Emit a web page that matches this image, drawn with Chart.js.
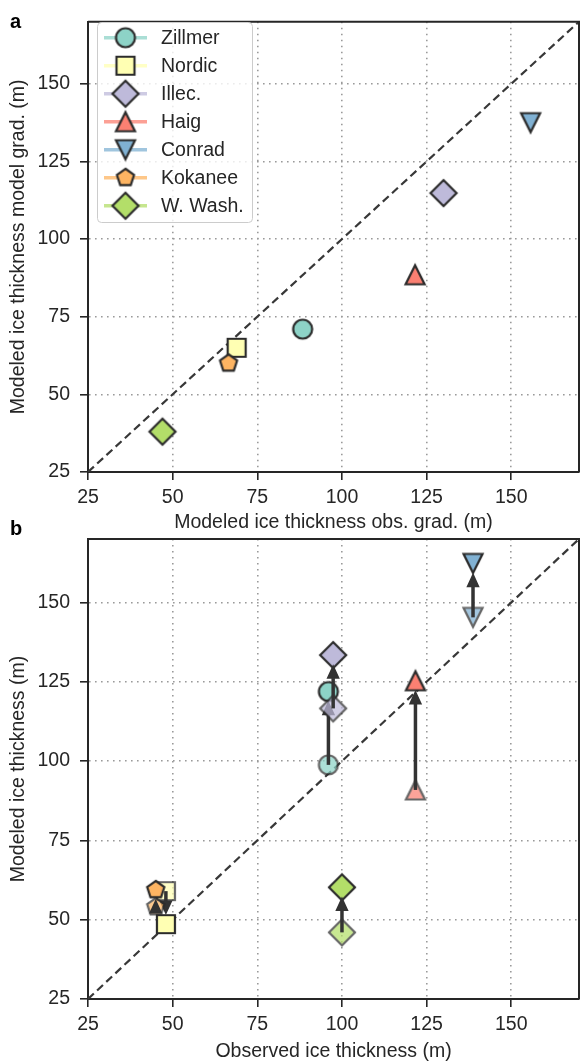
<!DOCTYPE html>
<html>
<head>
<meta charset="utf-8">
<script src="https://cdn.jsdelivr.net/npm/chart.js@4.4.1/dist/chart.umd.min.js"></script>
<style>
  html, body { margin: 0; padding: 0; background: #fff; overflow: hidden; }
  body { width: 582px; height: 1064px; position: relative; }
  canvas { position: absolute; left: 0; }
  #chartA { top: 0; }
  #chartB { top: 510px; }
</style>
</head>
<body>
<canvas id="chartA" width="590" height="540"></canvas>
<canvas id="chartB" width="590" height="554"></canvas>
<script>
// glaciers, colours, marker shapes
const glaciers = ['Zillmer', 'Nordic', 'Illec.', 'Haig', 'Conrad', 'Kokanee', 'W. Wash.'];
const colors = ['#8dd3c7', '#ffffb3', '#bebada', '#fb8072', '#80b1d3', '#fdb462', '#b3de69'];
const shapes = ['circle', 'square', 'diamond', 'triUp', 'triDown', 'pentagon', 'diamond'];

// panel a : modeled thickness, obs. gradient vs model gradient
const thkObsGrad = [88.4, 68.9, 130, 121.6, 155.7, 66.5, 47];
const thkModelGrad = [71, 65, 114.8, 88.5, 137.5, 60, 38];

// panel b : observed vs modeled (before -> after)
const thkObserved = [96, 48, 97.4, 121.7, 138.7, 45, 100];
const thkBefore = [98.8, 59, 116.6, 90.9, 145.3, 54, 46];
const thkAfter = [121.9, 48.6, 133.4, 125.3, 162.3, 59.4, 60.2];

const axisTicks = [25, 50, 75, 100, 125, 150];
const axisRange = [25, 170];
const oneToOne = [25, 170];

const FONT = "'Liberation Sans', Arial, sans-serif";
const INK = '#262626';
const FS = 19.5;
Chart.defaults.font.family = FONT;
Chart.defaults.font.size = FS;
Chart.defaults.color = INK;

// marker drawing (matplotlib-like shapes)
function markerPath(g, shape, c) {
    g.beginPath();
    if (shape === 'circle') {
        g.arc(c, c, 9.5, 0, Math.PI * 2);
    } else if (shape === 'square') {
        g.rect(c - 9, c - 9, 18, 18);
    } else if (shape === 'diamond') {
        g.moveTo(c, c - 13); g.lineTo(c + 13, c); g.lineTo(c, c + 13); g.lineTo(c - 13, c);
        g.closePath();
    } else if (shape === 'triUp') {
        g.moveTo(c, c - 9.5); g.lineTo(c + 9.5, c + 9.5); g.lineTo(c - 9.5, c + 9.5);
        g.closePath();
    } else if (shape === 'triDown') {
        g.moveTo(c, c + 9.5); g.lineTo(c + 9.5, c - 9.5); g.lineTo(c - 9.5, c - 9.5);
        g.closePath();
    } else if (shape === 'pentagon') {
        for (let i = 0; i < 5; i++) {
            const a = -Math.PI / 2 + i * 2 * Math.PI / 5;
            const px = c + 9 * Math.cos(a), py = c + 9 * Math.sin(a);
            if (i === 0) g.moveTo(px, py); else g.lineTo(px, py);
        }
        g.closePath();
    }
}

function makeMarker(shape, fill, alpha) {
    const s = 36, c = s / 2;
    const base = document.createElement('canvas');
    base.width = base.height = s;
    const g = base.getContext('2d');
    markerPath(g, shape, c);
    g.fillStyle = fill;
    g.fill();
    g.lineWidth = 2.2;
    g.strokeStyle = '#2b2b2b';
    g.stroke();
    if (alpha >= 1) return base;
    const faded = document.createElement('canvas');
    faded.width = faded.height = s;
    const f = faded.getContext('2d');
    f.globalAlpha = alpha;
    f.drawImage(base, 0, 0);
    return faded;
}

const solidMarkers = shapes.map((s, i) => makeMarker(s, colors[i], 1));
const fadedMarkers = shapes.map((s, i) => makeMarker(s, colors[i], 0.72));

function hexAlpha(hex, a) {
    const n = parseInt(hex.slice(1), 16);
    return 'rgba(' + (n >> 16) + ',' + ((n >> 8) & 255) + ',' + (n & 255) + ',' + a + ')';
}

// frame (top / right spine) + panel letter
const framePlugin = {
    id: 'frame',
    afterDraw(chart, args, opts) {
        const {ctx, chartArea: a} = chart;
        ctx.save();
        ctx.strokeStyle = INK;
        ctx.lineWidth = 2;
        ctx.beginPath();
        ctx.moveTo(a.left, a.top); ctx.lineTo(a.right, a.top); ctx.lineTo(a.right, a.bottom);
        ctx.stroke();
        ctx.fillStyle = '#000';
        ctx.font = 'bold 20px ' + FONT;
        ctx.textBaseline = 'alphabetic';
        ctx.fillText(opts.letter, opts.x, opts.y);
        ctx.restore();
    }
};

// legend with line + marker like matplotlib
const legendPlugin = {
    id: 'mplLegend',
    afterDraw(chart, args, opts) {
        if (!opts.show) return;
        const ctx = chart.ctx;
        ctx.save();
        const bx = 97.5, by = 22.5, bw = 155, bh = 200, r = 4;
        ctx.beginPath();
        ctx.roundRect(bx, by, bw, bh, r);
        ctx.fillStyle = 'rgba(255,255,255,0.8)';
        ctx.fill();
        ctx.strokeStyle = '#cccccc';
        ctx.lineWidth = 1;
        ctx.stroke();
        glaciers.forEach((name, i) => {
            const y = 37.7 + i * 28;
            ctx.strokeStyle = hexAlpha(colors[i], 0.75);
            ctx.lineWidth = 3.5;
            ctx.beginPath();
            ctx.moveTo(104, y); ctx.lineTo(147, y);
            ctx.stroke();
            const m = solidMarkers[i];
            ctx.drawImage(m, 125.5 - m.width / 2, y - m.height / 2);
            ctx.fillStyle = INK;
            ctx.font = FS + 'px ' + FONT;
            ctx.textBaseline = 'middle';
            ctx.fillText(name, 161, y + 1);
        });
        ctx.restore();
    }
};

// arrows before -> after, drawn right after each glacier's markers
const arrowPlugin = {
    id: 'arrows',
    afterDatasetDraw(chart, args) {
        const ds = chart.data.datasets[args.index];
        if (ds.role !== 'after') return;
        const i = ds.glacier;
        const xs = chart.scales.x, ys = chart.scales.y;
        const x1 = xs.getPixelForValue(thkObserved[i]), y1 = ys.getPixelForValue(thkBefore[i]);
        const x2 = xs.getPixelForValue(thkObserved[i]), y2 = ys.getPixelForValue(thkAfter[i]);
        const dx = x2 - x1, dy = y2 - y1, len = Math.hypot(dx, dy);
        const ux = dx / len, uy = dy / len;
        const tx = x2 - ux * 11, ty = y2 - uy * 11;
        const headL = 12, headW = 5.5;
        const bxp = tx - ux * headL, byp = ty - uy * headL;
        const ctx = chart.ctx;
        ctx.save();
        ctx.strokeStyle = '#333333';
        ctx.fillStyle = '#333333';
        ctx.lineWidth = 3.5;
        if ((bxp - x1) * ux + (byp - y1) * uy > 0) {
            ctx.beginPath();
            ctx.moveTo(x1, y1); ctx.lineTo(bxp, byp);
            ctx.stroke();
        }
        ctx.lineWidth = 1.5;
        ctx.lineJoin = 'miter';
        ctx.beginPath();
        ctx.moveTo(tx, ty);
        ctx.lineTo(bxp - uy * headW, byp + ux * headW);
        ctx.lineTo(bxp + uy * headW, byp - ux * headW);
        ctx.closePath();
        ctx.fill();
        ctx.stroke();
        ctx.restore();
    }
};

function axisOpts(title, isX, titlePad) {
    return {
        type: 'linear',
        min: axisRange[0],
        max: axisRange[1],
        afterBuildTicks: s => { s.ticks = axisTicks.map(v => ({value: v})); },
        afterFit: isX.fit,
        grid: {color: '#9a9a9a', lineWidth: 1.6, tickLength: 8, tickColor: INK, tickWidth: 1.6},
        border: {color: INK, width: 2, dash: [1.6, 4.4]},
        ticks: {padding: isX.pad, color: INK, font: {size: FS}},
        title: {display: true, text: title, color: INK, font: {size: FS, lineHeight: 1.2}, padding: titlePad}
    };
}

function diagDataset() {
    return {
        data: [{x: oneToOne[0], y: oneToOne[0]}, {x: oneToOne[1], y: oneToOne[1]}],
        showLine: true,
        borderColor: '#383838',
        borderWidth: 2.2,
        borderDash: [8, 4.5],
        pointRadius: 0,
        order: 0
    };
}

// panel a
const datasetsA = [diagDataset()];
glaciers.forEach((name, i) => {
    datasetsA.push({
        label: name,
        data: [{x: thkObsGrad[i], y: thkModelGrad[i]}],
        pointStyle: solidMarkers[i],
        pointRadius: 10,
        order: -(i + 1)
    });
});

new Chart(document.getElementById('chartA'), {
    type: 'scatter',
    data: {datasets: datasetsA},
    options: {
        responsive: false,
        animation: false,
        devicePixelRatio: 1,
        layout: {padding: {top: 13, bottom: 6, left: 0, right: 5.5}},
        plugins: {
            legend: {display: false},
            tooltip: {enabled: false},
            frame: {letter: 'a', x: 10, y: 28},
            mplLegend: {show: true}
        },
        scales: {
            x: axisOpts('Modeled ice thickness obs. grad. (m)', {fit: s => { s.height = 62; }, pad: 6}, {top: 0, bottom: 0}),
            y: axisOpts('Modeled ice thickness model grad. (m)', {fit: s => { s.width = 88; }, pad: 10}, {top: 7, bottom: 0})
        }
    },
    plugins: [framePlugin, legendPlugin]
});

// panel b
const datasetsB = [diagDataset()];
glaciers.forEach((name, i) => {
    datasetsB.push({
        label: name + ' before',
        data: [{x: thkObserved[i], y: thkBefore[i]}],
        pointStyle: fadedMarkers[i],
        pointRadius: 10,
        role: 'before',
        glacier: i,
        order: -(2 * i + 1)
    });
    datasetsB.push({
        label: name,
        data: [{x: thkObserved[i], y: thkAfter[i]}],
        pointStyle: solidMarkers[i],
        pointRadius: 10,
        role: 'after',
        glacier: i,
        order: -(2 * i + 2)
    });
});

new Chart(document.getElementById('chartB'), {
    type: 'scatter',
    data: {datasets: datasetsB},
    options: {
        responsive: false,
        animation: false,
        devicePixelRatio: 1,
        layout: {padding: {top: 29, bottom: 1, left: 0, right: 5.5}},
        plugins: {
            legend: {display: false},
            tooltip: {enabled: false},
            frame: {letter: 'b', x: 10, y: 25},
            mplLegend: {show: false}
        },
        scales: {
            x: axisOpts('Observed ice thickness (m)', {fit: s => { s.height = 64; }, pad: 6}, {top: 0, bottom: 0}),
            y: axisOpts('Modeled ice thickness (m)', {fit: s => { s.width = 88; }, pad: 10}, {top: 7, bottom: 0})
        }
    },
    plugins: [framePlugin, legendPlugin, arrowPlugin]
});
</script>
</body>
</html>
